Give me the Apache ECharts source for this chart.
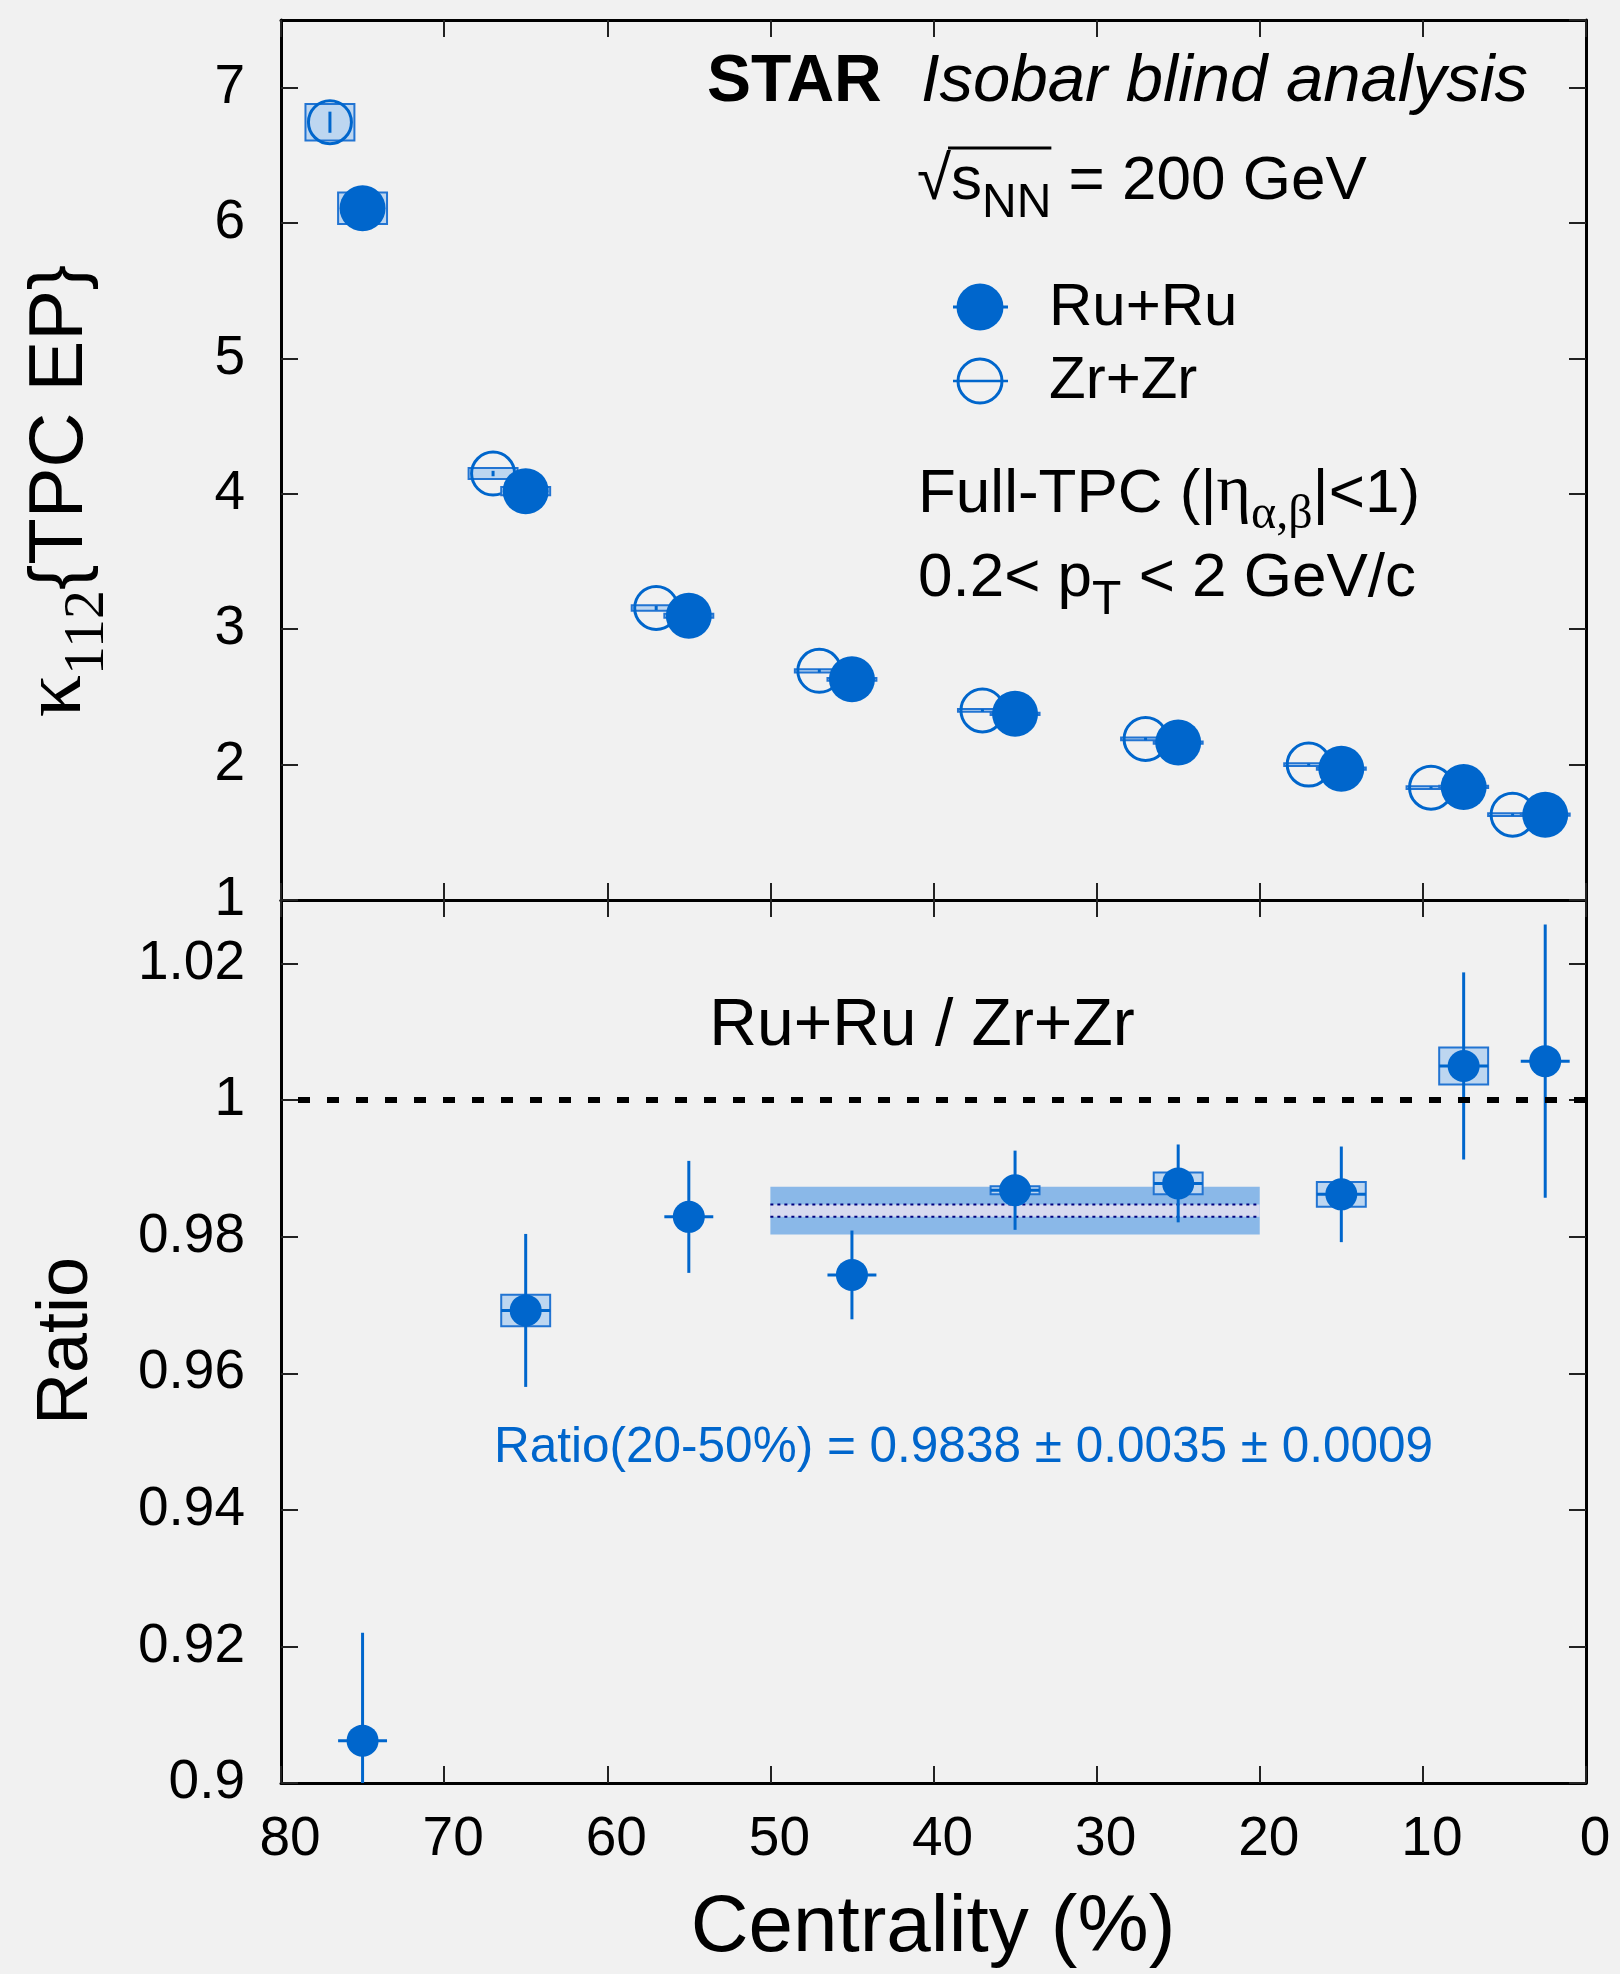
<!DOCTYPE html>
<html>
<head>
<meta charset="utf-8">
<script src="https://cdn.jsdelivr.net/npm/echarts@6.0.0/dist/echarts.min.js"></script>
<style>
  html, body { margin: 0; padding: 0; background: #f1f1f1; }
  #chart { width: 1620px; height: 1974px; }
</style>
</head>
<body>
<div id="chart"></div>
<script>
// ---- upper panel: kappa_112{TPC EP} vs centrality ----
const ruCent  = [75, 65, 55, 45, 35, 25, 15, 7.5, 2.5];
const ruKappa = [6.11, 4.02, 3.10, 2.63, 2.375, 2.163, 1.97, 1.835, 1.63];
const ruStat  = [0.05, 0.02, 0.015, 0.012, 0.01, 0.01, 0.008, 0.008, 0.008];
const ruSys   = [0.116, 0.03, 0.015, 0.01, 0.008, 0.008, 0.008, 0.008, 0.008];

// Zr+Zr is drawn shifted by 2% in centrality, as in the figure
const zrCent  = [77, 67, 57, 47, 37, 27, 17, 9.5, 4.5];
const zrKappa = [6.745, 4.15, 3.157, 2.693, 2.40, 2.19, 2.0, 1.83, 1.63];
const zrStat  = [0.078, 0.02, 0.015, 0.012, 0.01, 0.01, 0.008, 0.008, 0.008];
const zrSys   = [0.135, 0.04, 0.02, 0.012, 0.01, 0.01, 0.01, 0.01, 0.01];

// ---- lower panel: Ru+Ru / Zr+Zr ----
const ratioCent = [75, 65, 55, 45, 35, 25, 15, 7.5, 2.5];
const ratioVal  = [0.9062, 0.9692, 0.9829, 0.9744, 0.9868, 0.9878, 0.9862, 1.0050, 1.0057];
const ratioStat = [0.0158, 0.0112, 0.0082, 0.0065, 0.0058, 0.0057, 0.0070, 0.0137, 0.0200];
const ratioSys  = [0, 0.0023, 0, 0, 0.0006, 0.0016, 0.0018, 0.0027, 0];

// 20-50% combined ratio
const avgRange = [50, 20];
const avgRatio = 0.9838, avgStat = 0.0035, avgSys = 0.0009;

const binHalf = 1.5;          // half width of the sys boxes (centrality %)
const upperY = [1, 7.5];
const lowerY = [0.9, 1.0293];

const BLUE = '#0066cc';
const BOX_FILL = '#bdd6f0';
const BOX_EDGE = '#2274d2';
const SANS = '"Liberation Sans", Arial, sans-serif';
const SERIF = '"Liberation Serif", "Times New Roman", serif';

const myChart = echarts.init(document.getElementById('chart'));

// measuring for hand-built rich text runs (sub scripts)
const mctx = document.createElement('canvas').getContext('2d');
function tw(t, f) { mctx.font = f; return mctx.measureText(t).width; }
function fnt(size, fam, st) { return (st ? st + ' ' : '') + size + 'px ' + fam; }

// parts: [text, size, family, fontStyle, dy]; y given as baseline
function textRun(x, base, parts, color) {
  let cx = x;
  const els = [];
  parts.forEach(p => {
    const f = fnt(p[1], p[2], p[3]);
    els.push({
      type: 'text', x: cx, y: base + (p[4] || 0) - 0.3465 * p[1],
      style: { text: p[0], font: f, fill: color || '#000',
               align: 'left', verticalAlign: 'middle', textAlign: 'left', textVerticalAlign: 'middle' }
    });
    cx += tw(p[0], f);
  });
  return { els: els, end: cx, width: cx - x };
}
function runWidth(parts) {
  return parts.reduce((s, p) => s + tw(p[0], fnt(p[1], p[2], p[3])), 0);
}

function xAx(grid, pos, labels) {
  return {
    type: 'value', gridIndex: grid, position: pos, min: 0, max: 80, interval: 10, inverse: true,
    axisLine: { show: true, onZero: false, lineStyle: { color: '#000', width: 3 } },
    axisTick: { show: true, inside: true, length: 17, lineStyle: { color: '#222', width: 2 } },
    axisLabel: { show: labels, fontSize: 55, fontFamily: SANS, color: '#000', margin: 29, padding: [0, 0, 0, 18] },
    splitLine: { show: false }
  };
}
function yAx(grid, pos, ext, interval, labels) {
  return {
    type: 'value', gridIndex: grid, position: pos, min: ext[0], max: ext[1], interval: interval,
    axisLine: { show: true, onZero: false, lineStyle: { color: '#000', width: 3 } },
    axisTick: { show: true, inside: true, length: 17, lineStyle: { color: '#222', width: 2 } },
    axisLabel: { show: labels, fontSize: 55, fontFamily: SANS, color: '#000', margin: 36, showMaxLabel: false },
    splitLine: { show: false }
  };
}

function boxItem(params, api) {
  const x = api.value(0), y = api.value(1), s = api.value(2), w = api.value(3);
  if (!s) return null;
  const p1 = api.coord([x + w, y + s]);
  const p2 = api.coord([x - w, y - s]);
  return {
    type: 'rect',
    shape: { x: Math.min(p1[0], p2[0]), y: Math.min(p1[1], p2[1]),
             width: Math.abs(p2[0] - p1[0]), height: Math.max(Math.abs(p2[1] - p1[1]), 1) },
    style: { fill: BOX_FILL, stroke: BOX_EDGE, lineWidth: 2 }
  };
}
function makeErr(ext) {
  return function (params, api) {
    const x = api.value(0), y = api.value(1), e = api.value(2), w = api.value(3);
    const lo = api.coord([x, Math.max(y - e, ext[0])]);
    const hi = api.coord([x, Math.min(y + e, ext[1])]);
    const kids = [{ type: 'line', shape: { x1: lo[0], y1: lo[1], x2: hi[0], y2: hi[1] },
                    style: { stroke: BLUE, lineWidth: 3 } }];
    if (w) {
      const a = api.coord([x + w, y]), b = api.coord([x - w, y]);
      kids.push({ type: 'line', shape: { x1: a[0], y1: a[1], x2: b[0], y2: b[1] },
                  style: { stroke: BLUE, lineWidth: 3 } });
    }
    return { type: 'group', children: kids };
  };
}
function bandItem(params, api) {
  const x0 = api.value(0), x1 = api.value(1), m = api.value(2), st = api.value(3), sy = api.value(4);
  const a = api.coord([x0, m + st]), b = api.coord([x1, m - st]);
  const c = api.coord([x0, m + sy]), d = api.coord([x1, m - sy]);
  return {
    type: 'group', children: [
      { type: 'rect', shape: { x: a[0], y: a[1], width: b[0] - a[0], height: b[1] - a[1] }, style: { fill: '#8ab8e8' } },
      { type: 'rect', shape: { x: c[0], y: c[1], width: d[0] - c[0], height: d[1] - c[1] }, style: { fill: '#d7daef' } },
      { type: 'line', shape: { x1: c[0], y1: c[1], x2: d[0], y2: c[1] }, style: { stroke: '#000080', lineWidth: 2, lineDash: [3, 4] } },
      { type: 'line', shape: { x1: c[0], y1: d[1], x2: d[0], y2: d[1] }, style: { stroke: '#000080', lineWidth: 2, lineDash: [3, 4] } }
    ]
  };
}

// ---- text annotations ----
const graphics = [];
function add(run) { run.els.forEach(e => graphics.push(e)); return run; }

add(textRun(707, 106, [['STAR', 66, SANS, 'bold']]));
add(textRun(921, 106, [['Isobar blind analysis', 67, SANS, 'italic']]));

const rt = add(textRun(917, 203, [['\u221A', 62, SANS]]));
const sq = add(textRun(rt.end, 203, [['s', 62, SANS], ['NN', 48, SANS, '', 17]]));
add(textRun(sq.end, 203, [[' = 200 GeV', 62, SANS]]));
graphics.push({ type: 'line', shape: { x1: rt.end - 3, y1: 148, x2: sq.end, y2: 148 }, style: { stroke: '#000', lineWidth: 3 } });

// legend
graphics.push({ type: 'line', shape: { x1: 953, y1: 307, x2: 1008, y2: 307 }, style: { stroke: BLUE, lineWidth: 3 } });
graphics.push({ type: 'circle', shape: { cx: 980, cy: 307, r: 23.5 }, style: { fill: BLUE } });
graphics.push({ type: 'circle', shape: { cx: 980, cy: 381, r: 22 }, style: { fill: 'none', stroke: BLUE, lineWidth: 3 } });
graphics.push({ type: 'line', shape: { x1: 953, y1: 381, x2: 1008, y2: 381 }, style: { stroke: BLUE, lineWidth: 2.5 } });
add(textRun(1049, 329, [['Ru+Ru', 60, SANS]]));
add(textRun(1049, 402, [['Zr+Zr', 60, SANS]]));

add(textRun(918, 516, [['Full-TPC (|', 62, SANS], ['\u03B7', 66, SERIF], ['\u03B1,\u03B2', 48, SERIF, '', 16], ['|<1)', 62, SANS]]));
add(textRun(918, 600, [['0.2< p', 62, SANS], ['T', 48, SANS, '', 17], [' < 2 GeV/c', 62, SANS]]));

const ratioTitle = [['Ru+Ru / Zr+Zr', 66, SANS]];
add(textRun(922 - runWidth(ratioTitle) / 2, 1050, ratioTitle));
add(textRun(494, 1465, [['Ratio(20-50%) = 0.9838 \u00B1 0.0035 \u00B1 0.0009', 49.5, SANS]], BLUE));

const xTitle = [['Centrality (%)', 80, SANS]];
add(textRun(933 - runWidth(xTitle) / 2, 1957, xTitle));

// rotated y titles
const kParts = [['\u03BA', 84, SERIF], ['112', 58, SERIF, '', 21], ['{TPC EP}', 76, SANS]];
const kRun = textRun(-runWidth(kParts) / 2, 0, kParts);
graphics.push({ type: 'group', x: 87, y: 491, rotation: Math.PI / 2, children: kRun.els });
const rParts = [['Ratio', 72, SANS]];
const rRun = textRun(-runWidth(rParts) / 2, 0, rParts);
graphics.push({ type: 'group', x: 92, y: 1341, rotation: Math.PI / 2, children: rRun.els });

const option = {
  backgroundColor: '#f1f1f1',
  animation: false,
  grid: [
    { left: 281, width: 1305, top: 20, height: 880 },
    { left: 281, width: 1305, top: 900, height: 883 }
  ],
  xAxis: [xAx(0, 'bottom', false), xAx(0, 'top', false), xAx(1, 'bottom', true), xAx(1, 'top', false)],
  yAxis: [yAx(0, 'left', upperY, 1, true), yAx(0, 'right', upperY, 1, false),
          yAx(1, 'left', lowerY, 0.02, true), yAx(1, 'right', lowerY, 0.02, false)],
  graphic: { elements: graphics },
  series: [
    { type: 'custom', name: 'Zr sys', xAxisIndex: 0, yAxisIndex: 0, renderItem: boxItem, z: 2,
      data: zrCent.map((c, i) => [c, zrKappa[i], zrSys[i], binHalf]) },
    { type: 'custom', name: 'Zr stat', xAxisIndex: 0, yAxisIndex: 0, renderItem: makeErr(upperY), z: 3,
      data: zrCent.map((c, i) => [c, zrKappa[i], zrStat[i], 0]) },
    { type: 'scatter', name: 'Zr+Zr', xAxisIndex: 0, yAxisIndex: 0, symbol: 'circle', symbolSize: 43, z: 4,
      itemStyle: { color: 'rgba(0,0,0,0)', borderColor: BLUE, borderWidth: 3, opacity: 1 },
      data: zrCent.map((c, i) => [c, zrKappa[i]]) },
    { type: 'custom', name: 'Ru sys', xAxisIndex: 0, yAxisIndex: 0, renderItem: boxItem, z: 5,
      data: ruCent.map((c, i) => [c, ruKappa[i], ruSys[i], binHalf]) },
    { type: 'custom', name: 'Ru stat', xAxisIndex: 0, yAxisIndex: 0, renderItem: makeErr(upperY), z: 6,
      data: ruCent.map((c, i) => [c, ruKappa[i], ruStat[i], 0]) },
    { type: 'scatter', name: 'Ru+Ru', xAxisIndex: 0, yAxisIndex: 0, symbol: 'circle', symbolSize: 46, z: 7,
      itemStyle: { color: BLUE, opacity: 1 }, data: ruCent.map((c, i) => [c, ruKappa[i]]) },

    { type: 'custom', name: 'avg', xAxisIndex: 2, yAxisIndex: 2, renderItem: bandItem, z: 1,
      data: [[avgRange[0], avgRange[1], avgRatio, avgStat, avgSys]] },
    { type: 'custom', name: 'ratio sys', xAxisIndex: 2, yAxisIndex: 2, renderItem: boxItem, z: 2,
      data: ratioCent.map((c, i) => [c, ratioVal[i], ratioSys[i], binHalf]) },
    { type: 'custom', name: 'ratio stat', xAxisIndex: 2, yAxisIndex: 2, renderItem: makeErr(lowerY), z: 3,
      data: ratioCent.map((c, i) => [c, ratioVal[i], ratioStat[i], binHalf]) },
    { type: 'scatter', name: 'ratio', xAxisIndex: 2, yAxisIndex: 2, symbol: 'circle', symbolSize: 32, z: 4,
      itemStyle: { color: BLUE, opacity: 1 }, data: ratioCent.map((c, i) => [c, ratioVal[i]]),
      markLine: { silent: true, symbol: ['none', 'none'], label: { show: false },
                  lineStyle: { color: '#000', width: 6, type: [12, 17], opacity: 1 }, data: [{ yAxis: 1 }] } }
  ]
};
myChart.setOption(option);
</script>
</body>
</html>
